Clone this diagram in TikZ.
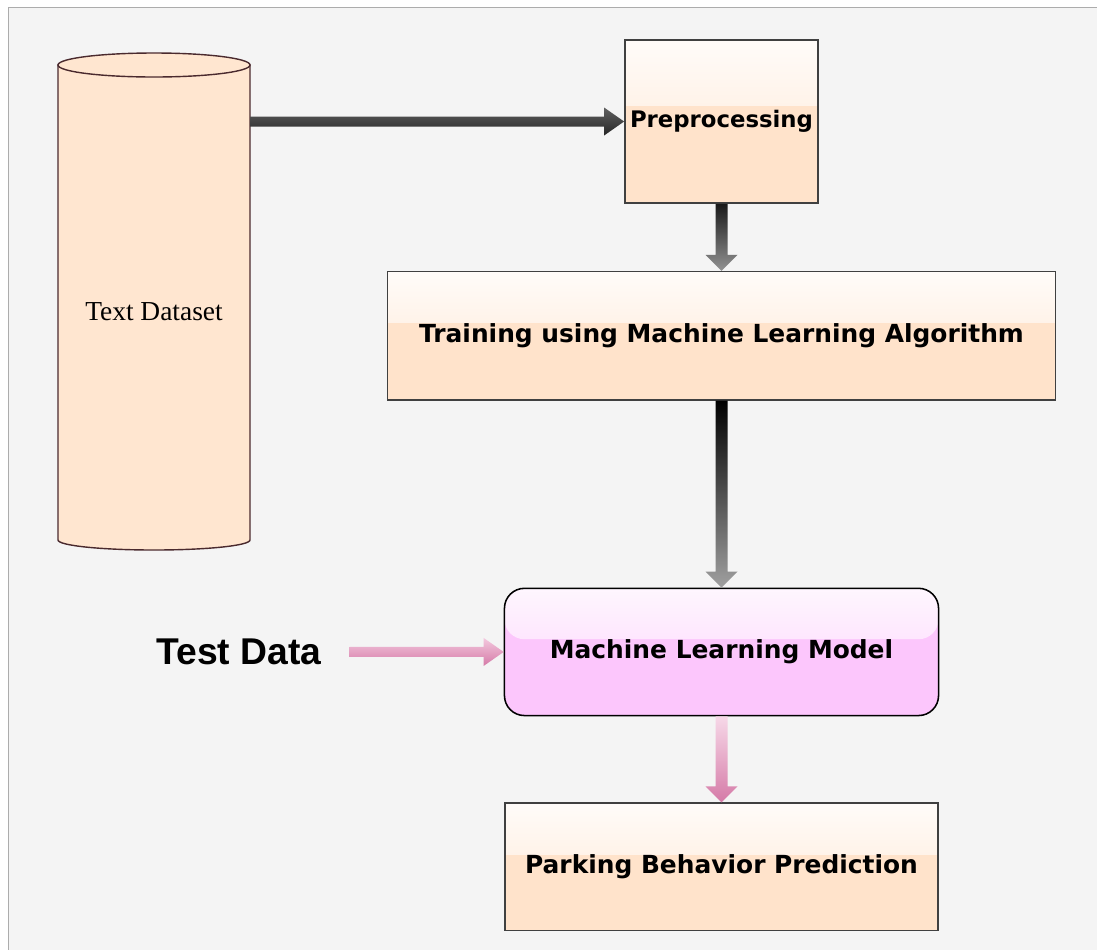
\documentclass[tikz,border=0pt]{standalone}
\usepackage{fontspec}
\setmainfont{Liberation Serif}
\newfontfamily\boxfont{DejaVu Sans}
\newfontfamily\labelfont{Liberation Sans}
\usetikzlibrary{positioning,calc}

\definecolor{peach}{HTML}{FFE3CB}
\definecolor{pinkbox}{HTML}{FCC6FC}
\definecolor{rosedark}{HTML}{D57AA7}
\definecolor{roselt}{HTML}{F3C8DE}
\definecolor{cylline}{HTML}{4A2A2E}
\definecolor{canvas}{HTML}{F4F4F4}

% block arrow pointing down: from, to, top colour, bottom colour
\newcommand{\downblock}[4]{%
  \path[top color=#3,bottom color=#4]
    ($(#1)+(-6,0)$) -- ($(#2)+(-6,16)$) -- ($(#2)+(-16,16)$) -- (#2)
    -- ($(#2)+(16,16)$) -- ($(#2)+(6,16)$) -- ($(#1)+(6,0)$) -- cycle;}
% block arrow pointing right
\newcommand{\rightblock}[4]{%
  \path[top color=#3,bottom color=#4]
    ($(#1)+(0,5)$) -- ($(#2)+(-20,5)$) -- ($(#2)+(-20,14)$) -- (#2)
    -- ($(#2)+(-20,-14)$) -- ($(#2)+(-20,-5)$) -- ($(#1)+(0,-5)$) -- cycle;}

\tikzset{
  gloss/.style 2 args={path picture={
      \fill[top color=#1,bottom color=#2] (path picture bounding box.north west)
        rectangle ($(path picture bounding box.north east)!0.4!(path picture bounding box.south east)$);}},
  stage/.style={draw=black!75,line width=1.1pt,fill=peach,inner sep=0pt,align=center,
    font=\boxfont\bfseries\fontsize{17.7}{20}\selectfont,
    gloss={peach!12!white}{peach!88!white}},
  model/.style={stage,draw=black,rounded corners=0.5cm,fill=pinkbox,
    gloss={pinkbox!15!white}{pinkbox!85!white}},
}

\begin{document}
\begin{tikzpicture}[x=0.025cm,y=0.025cm]
  \useasboundingbox (0,0) rectangle (1097,-949);
  \fill[white] (0,0) rectangle (1097,-949);
  \filldraw[fill=canvas,draw=gray!65,line width=0.6pt] (8,-7) rectangle (1110,-960);

  % dataset cylinder
  \filldraw[fill=peach!90!white,draw=cylline,line width=1pt] (58,-65) -- (58,-540)
    arc[start angle=180,end angle=360,x radius=96,y radius=10] -- (250,-65) -- cycle;
  \filldraw[fill=peach!90!white,draw=cylline,line width=1pt] (154,-65) ellipse [x radius=96,y radius=12];
  \node[minimum width=4.8cm,minimum height=11.875cm,inner sep=0pt,
        font=\fontsize{19.5}{22}\selectfont] (ds) at (154,-312) {Text Dataset};

  % processing chain
  \node[stage,minimum width=4.83cm,minimum height=4.08cm,font=\boxfont\bfseries\fontsize{16.2}{20}\selectfont]
    (pre) at (721.5,-121.5) {Preprocessing};
  \node[stage,minimum width=16.7cm,minimum height=3.2cm,below=1.675cm of pre] (train)
    {Training using Machine Learning Algorithm};
  \node[model,minimum width=10.85cm,minimum height=3.18cm,below=4.675cm of train] (mdl)
    {Machine Learning Model};
  \node[stage,minimum width=10.83cm,minimum height=3.18cm,below=2.15cm of mdl] (park)
    {Parking Behavior Prediction};
  \node[inner sep=0pt,left=4.55cm of mdl,font=\labelfont\bfseries\fontsize{26.5}{28}\selectfont] (test)
    {Test Data};

  \coordinate (dsout) at (250,0 |- pre.west);
  \coordinate (testout) at ($(test.east)+(28,0)$);

  % arrows
  \rightblock{dsout}{pre.west}{gray!75!black}{black!85}
  \downblock{pre.south}{train.north}{black!90}{gray!85}
  \downblock{train.south}{mdl.north}{black}{gray!75}
  \rightblock{testout}{mdl.west}{roselt}{rosedark}
  \downblock{mdl.south}{park.north}{roselt!70!white}{rosedark}
\end{tikzpicture}
\end{document}
